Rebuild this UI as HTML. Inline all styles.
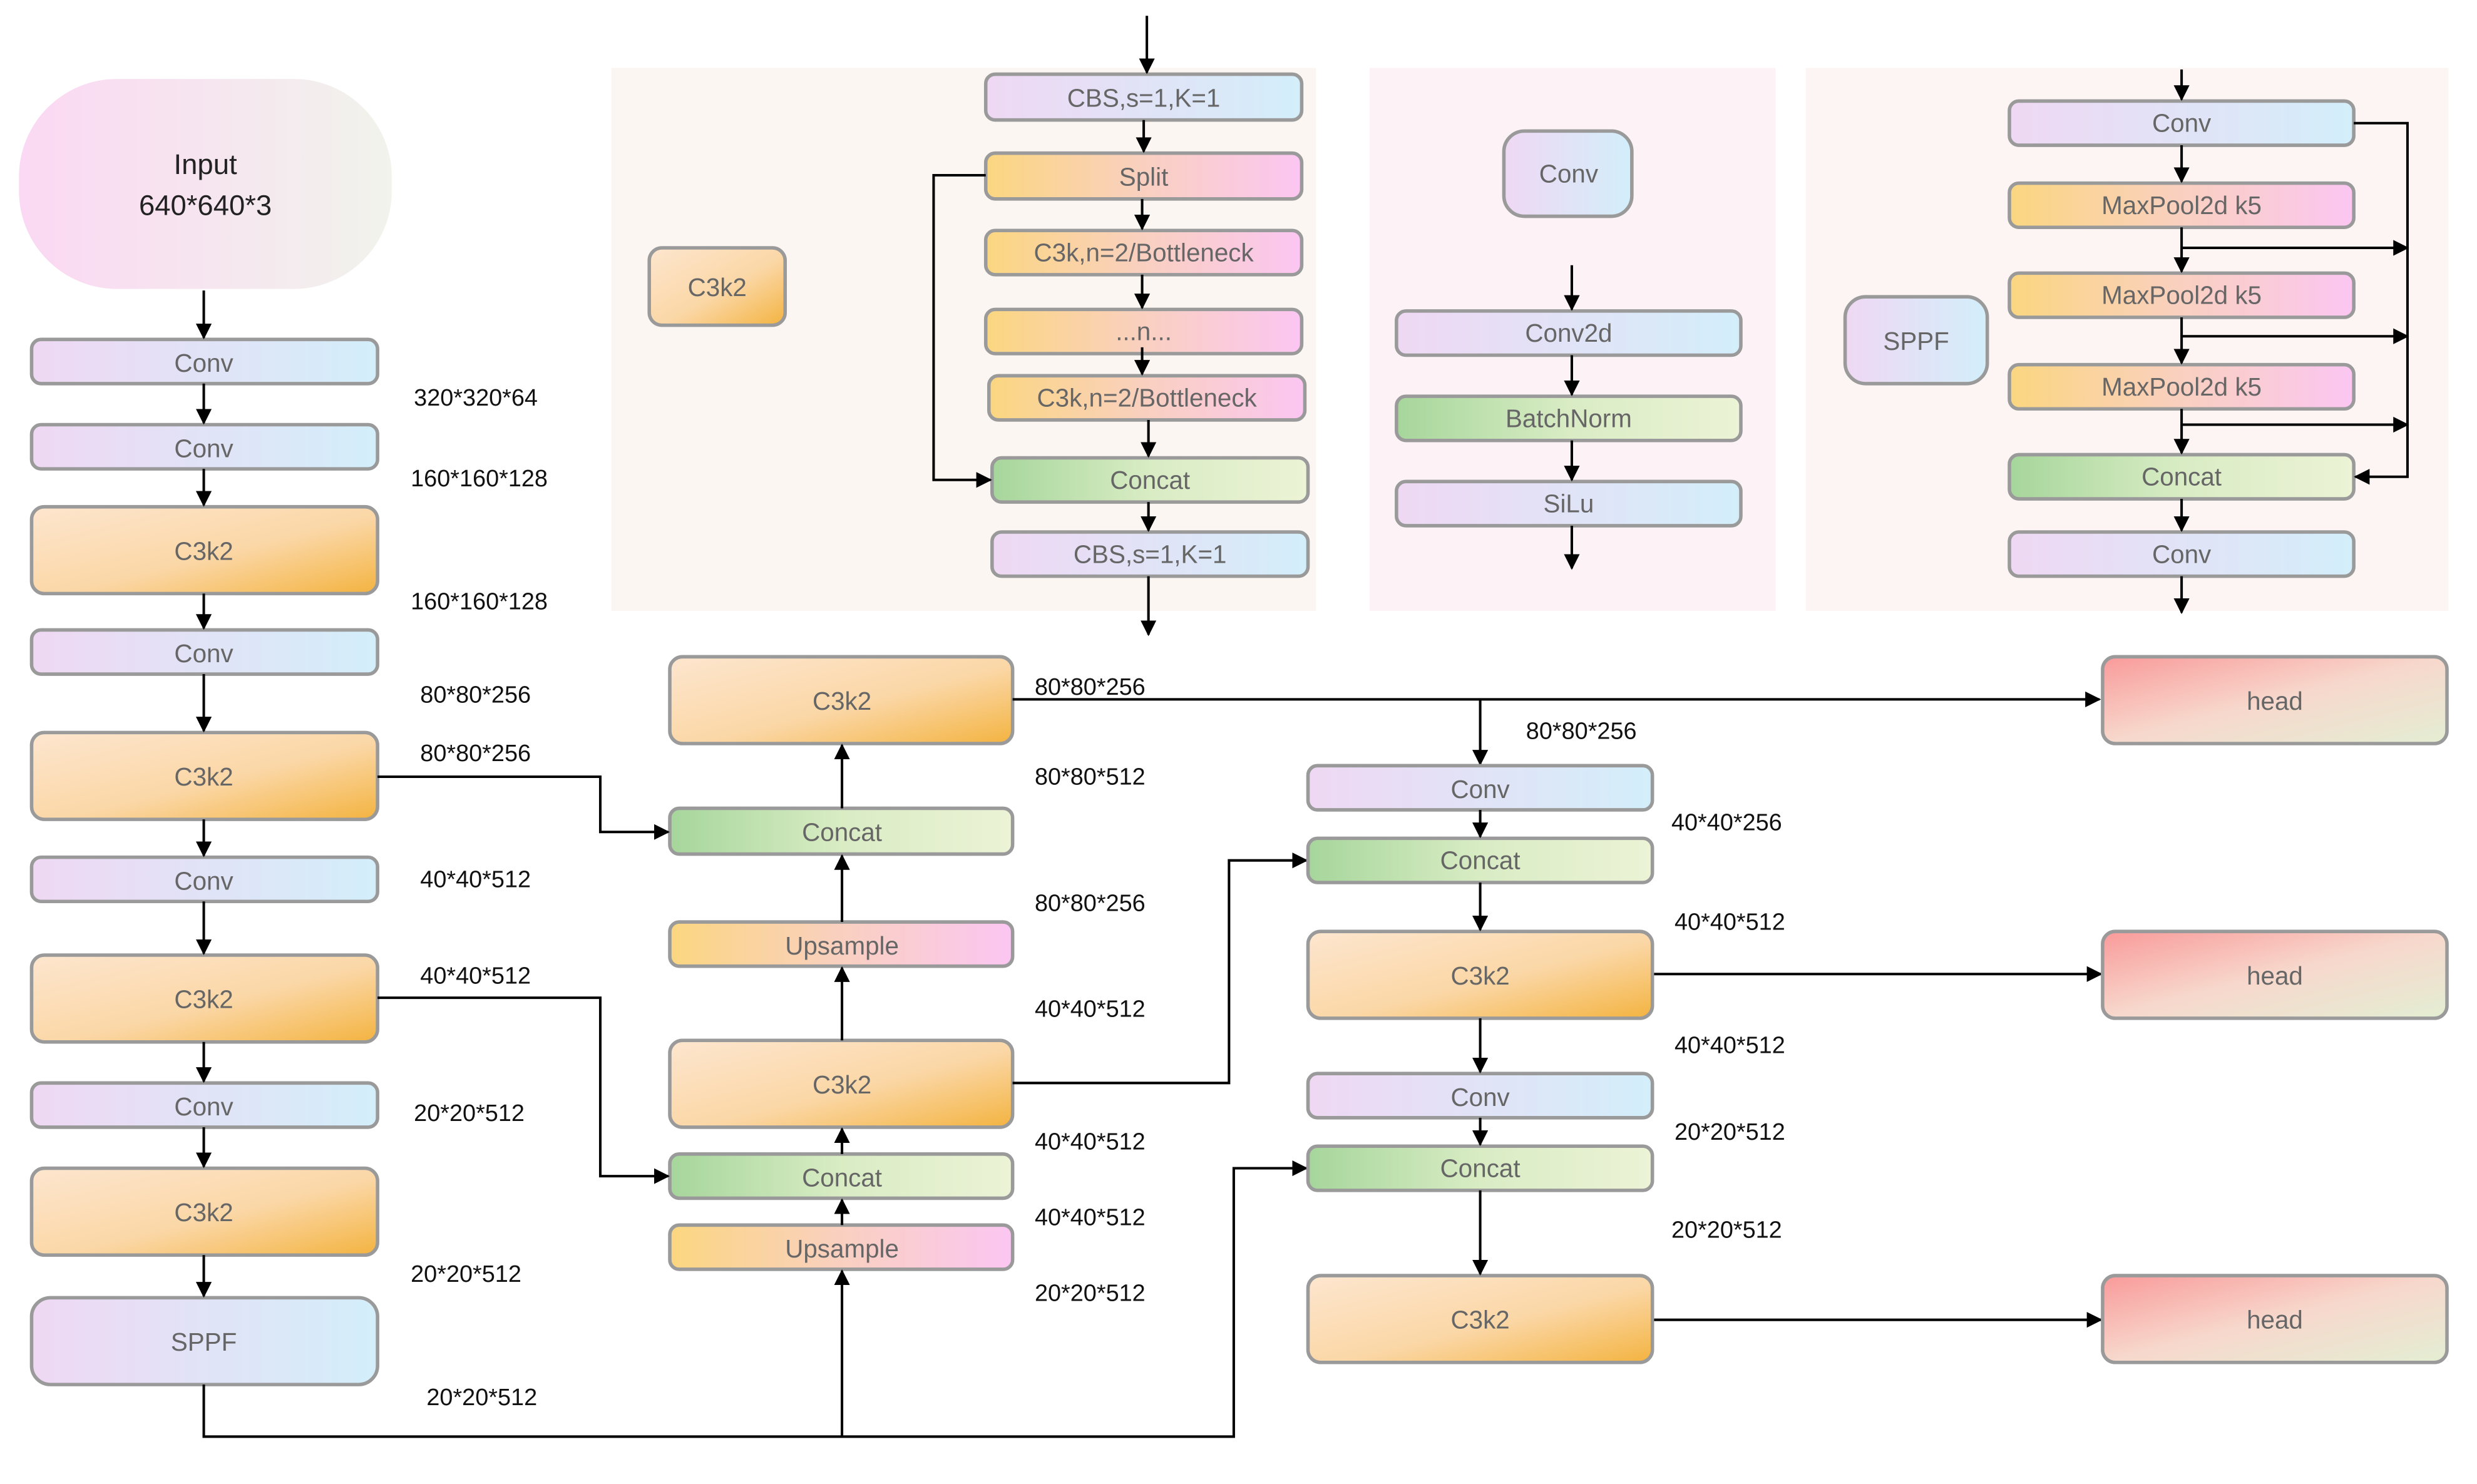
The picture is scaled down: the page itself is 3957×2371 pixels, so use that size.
<!DOCTYPE html>
<html><head><meta charset="utf-8"><style>
html,body{margin:0;padding:0;background:#fff;}
svg{display:block;}
text{font-family:"Liberation Sans",sans-serif;}
.n{fill:#666;font-size:16px;text-anchor:middle;dominant-baseline:central;}
.l{fill:#111;font-size:15px;}
.b{stroke:#9a9a9a;stroke-width:2.2;}
.w{stroke:#000;stroke-width:1.6;fill:none;}
</style></head><body>
<svg width="3957" height="2371" viewBox="0 0 1568 940" preserveAspectRatio="none" xmlns="http://www.w3.org/2000/svg">
<defs>
<linearGradient id="cv" x1="0" y1="0" x2="1" y2="0"><stop offset="0" stop-color="#efd8f3"/><stop offset="1" stop-color="#d3eefa"/></linearGradient>
<linearGradient id="ck" x1="0" y1="0" x2="1" y2="1"><stop offset="0" stop-color="#fde6cf"/><stop offset="0.55" stop-color="#fbd7a6"/><stop offset="1" stop-color="#f3b340"/></linearGradient>
<linearGradient id="cc" x1="0" y1="0" x2="1" y2="0"><stop offset="0" stop-color="#a6d69b"/><stop offset="0.5" stop-color="#d9ecc4"/><stop offset="1" stop-color="#ecf3d6"/></linearGradient>
<linearGradient id="up" x1="0" y1="0" x2="1" y2="0"><stop offset="0" stop-color="#fbd680"/><stop offset="0.5" stop-color="#f9d0c0"/><stop offset="1" stop-color="#fbc6f2"/></linearGradient>
<linearGradient id="hd" x1="0" y1="0" x2="1" y2="1"><stop offset="0" stop-color="#f99a9a"/><stop offset="0.5" stop-color="#f7d8cc"/><stop offset="1" stop-color="#e3eed3"/></linearGradient>
<linearGradient id="in" x1="0" y1="0" x2="1" y2="0"><stop offset="0" stop-color="#fbd8f3"/><stop offset="1" stop-color="#f1f3ec"/></linearGradient>
<marker id="a" markerWidth="10" markerHeight="10" refX="9" refY="5" orient="auto" markerUnits="userSpaceOnUse"><path d="M0,0 L10,5 L0,10 z" fill="#000"/></marker>
</defs>
<rect x="387" y="43" width="446" height="344" fill="#fcf6f2"/>
<rect x="867" y="43" width="257" height="344" fill="#fdf2f5"/>
<rect x="1143" y="43" width="407" height="344" fill="#fdf5f3"/>

<rect x="12" y="50" width="236" height="133" rx="62" fill="url(#in)"/>
<text class="n" x="130" y="104" style="fill:#222;font-size:18px">Input</text>
<text class="n" x="130" y="130" style="fill:#222;font-size:18px">640*640*3</text>

<g class="b">
<rect x="20" y="215" width="219" height="28" rx="6" fill="url(#cv)"/>
<rect x="20" y="269" width="219" height="28" rx="6" fill="url(#cv)"/>
<rect x="20" y="321" width="219" height="55" rx="8" fill="url(#ck)"/>
<rect x="20" y="399" width="219" height="28" rx="6" fill="url(#cv)"/>
<rect x="20" y="464" width="219" height="55" rx="8" fill="url(#ck)"/>
<rect x="20" y="543" width="219" height="28" rx="6" fill="url(#cv)"/>
<rect x="20" y="605" width="219" height="55" rx="8" fill="url(#ck)"/>
<rect x="20" y="686" width="219" height="28" rx="6" fill="url(#cv)"/>
<rect x="20" y="740" width="219" height="55" rx="8" fill="url(#ck)"/>
<rect x="20" y="822" width="219" height="55" rx="12" fill="url(#cv)"/>
</g>
<text class="n" x="129" y="230">Conv</text>
<text class="n" x="129" y="284">Conv</text>
<text class="n" x="129" y="349">C3k2</text>
<text class="n" x="129" y="414">Conv</text>
<text class="n" x="129" y="492">C3k2</text>
<text class="n" x="129" y="558">Conv</text>
<text class="n" x="129" y="633">C3k2</text>
<text class="n" x="129" y="701">Conv</text>
<text class="n" x="129" y="768">C3k2</text>
<text class="n" x="129" y="850">SPPF</text>
<g class="w" marker-end="url(#a)">
<line x1="129" y1="184" x2="129" y2="214"/>
<line x1="129" y1="243" x2="129" y2="268"/>
<line x1="129" y1="297" x2="129" y2="320"/>
<line x1="129" y1="376" x2="129" y2="398"/>
<line x1="129" y1="427" x2="129" y2="463"/>
<line x1="129" y1="519" x2="129" y2="542"/>
<line x1="129" y1="571" x2="129" y2="604"/>
<line x1="129" y1="660" x2="129" y2="685"/>
<line x1="129" y1="714" x2="129" y2="739"/>
<line x1="129" y1="795" x2="129" y2="821"/>
</g>
<g class="l">
<text x="262" y="257">320*320*64</text>
<text x="260" y="308">160*160*128</text>
<text x="260" y="386">160*160*128</text>
<text x="266" y="445">80*80*256</text>
<text x="266" y="482">80*80*256</text>
<text x="266" y="562">40*40*512</text>
<text x="266" y="623">40*40*512</text>
<text x="262" y="710">20*20*512</text>
<text x="260" y="812">20*20*512</text>
<text x="270" y="890">20*20*512</text>
</g>

<g class="b">
<rect x="424" y="416" width="217" height="55" rx="8" fill="url(#ck)"/>
<rect x="424" y="512" width="217" height="29" rx="6" fill="url(#cc)"/>
<rect x="424" y="584" width="217" height="28" rx="6" fill="url(#up)"/>
<rect x="424" y="659" width="217" height="55" rx="8" fill="url(#ck)"/>
<rect x="424" y="731" width="217" height="28" rx="6" fill="url(#cc)"/>
<rect x="424" y="776" width="217" height="28" rx="6" fill="url(#up)"/>
</g>
<text class="n" x="533" y="444">C3k2</text>
<text class="n" x="533" y="527">Concat</text>
<text class="n" x="533" y="599">Upsample</text>
<text class="n" x="533" y="687">C3k2</text>
<text class="n" x="533" y="746">Concat</text>
<text class="n" x="533" y="791">Upsample</text>
<g class="w" marker-end="url(#a)">
<line x1="533" y1="512" x2="533" y2="472"/>
<line x1="533" y1="584" x2="533" y2="542"/>
<line x1="533" y1="659" x2="533" y2="613"/>
<line x1="533" y1="731" x2="533" y2="715"/>
<line x1="533" y1="776" x2="533" y2="760"/>
<line x1="533" y1="910" x2="533" y2="805"/>
<polyline points="239,492 380,492 380,527 423,527"/>
<polyline points="239,632 380,632 380,745 423,745"/>
<polyline points="129,877 129,910 781,910 781,740 827,740"/>
<polyline points="641,443 1329,443"/>
<polyline points="937,443 937,484"/>
<polyline points="641,686 778,686 778,545 827,545"/>
<line x1="1046" y1="617" x2="1330" y2="617"/>
<line x1="1046" y1="836" x2="1330" y2="836"/>
</g>
<g class="l">
<text x="655" y="440">80*80*256</text>
<text x="655" y="497">80*80*512</text>
<text x="655" y="577">80*80*256</text>
<text x="655" y="644">40*40*512</text>
<text x="655" y="728">40*40*512</text>
<text x="655" y="776">40*40*512</text>
<text x="655" y="824">20*20*512</text>
</g>

<g class="b">
<rect x="828" y="485" width="218" height="28" rx="6" fill="url(#cv)"/>
<rect x="828" y="531" width="218" height="28" rx="6" fill="url(#cc)"/>
<rect x="828" y="590" width="218" height="55" rx="8" fill="url(#ck)"/>
<rect x="828" y="680" width="218" height="28" rx="6" fill="url(#cv)"/>
<rect x="828" y="726" width="218" height="28" rx="6" fill="url(#cc)"/>
<rect x="828" y="808" width="218" height="55" rx="8" fill="url(#ck)"/>
<rect x="1331" y="416" width="218" height="55" rx="8" fill="url(#hd)"/>
<rect x="1331" y="590" width="218" height="55" rx="8" fill="url(#hd)"/>
<rect x="1331" y="808" width="218" height="55" rx="8" fill="url(#hd)"/>
</g>
<text class="n" x="937" y="500">Conv</text>
<text class="n" x="937" y="545">Concat</text>
<text class="n" x="937" y="618">C3k2</text>
<text class="n" x="937" y="695">Conv</text>
<text class="n" x="937" y="740">Concat</text>
<text class="n" x="937" y="836">C3k2</text>
<text class="n" x="1440" y="444">head</text>
<text class="n" x="1440" y="618">head</text>
<text class="n" x="1440" y="836">head</text>
<g class="w" marker-end="url(#a)">
<line x1="937" y1="513" x2="937" y2="530"/>
<line x1="937" y1="559" x2="937" y2="589"/>
<line x1="937" y1="645" x2="937" y2="679"/>
<line x1="937" y1="708" x2="937" y2="725"/>
<line x1="937" y1="754" x2="937" y2="807"/>
</g>
<g class="l">
<text x="966" y="468">80*80*256</text>
<text x="1058" y="526">40*40*256</text>
<text x="1060" y="589">40*40*512</text>
<text x="1060" y="667">40*40*512</text>
<text x="1060" y="722">20*20*512</text>
<text x="1058" y="784">20*20*512</text>
</g>

<g class="b">
<rect x="411" y="157" width="86" height="49" rx="8" fill="url(#ck)"/>
<rect x="624" y="47" width="200" height="29" rx="6" fill="url(#cv)"/>
<rect x="624" y="97" width="200" height="29" rx="6" fill="url(#up)"/>
<rect x="624" y="146" width="200" height="28" rx="6" fill="url(#up)"/>
<rect x="624" y="196" width="200" height="28" rx="6" fill="url(#up)"/>
<rect x="626" y="238" width="200" height="28" rx="6" fill="url(#up)"/>
<rect x="628" y="290" width="200" height="28" rx="6" fill="url(#cc)"/>
<rect x="628" y="337" width="200" height="28" rx="6" fill="url(#cv)"/>
</g>
<text class="n" x="454" y="182">C3k2</text>
<text class="n" x="724" y="62">CBS,s=1,K=1</text>
<text class="n" x="724" y="112">Split</text>
<text class="n" x="724" y="160">C3k,n=2/Bottleneck</text>
<text class="n" x="724" y="210">...n...</text>
<text class="n" x="726" y="252">C3k,n=2/Bottleneck</text>
<text class="n" x="728" y="304">Concat</text>
<text class="n" x="728" y="351">CBS,s=1,K=1</text>
<g class="w" marker-end="url(#a)">
<line x1="726" y1="10" x2="726" y2="46"/>
<line x1="724" y1="76" x2="724" y2="96"/>
<line x1="723" y1="126" x2="723" y2="145"/>
<line x1="723" y1="174" x2="723" y2="195"/>
<line x1="723" y1="220" x2="723" y2="237"/>
<line x1="727" y1="266" x2="727" y2="289"/>
<line x1="727" y1="318" x2="727" y2="336"/>
<line x1="727" y1="365" x2="727" y2="402"/>
<polyline points="624,111 591,111 591,304 627,304"/>
</g>

<g class="b">
<rect x="952" y="83" width="81" height="54" rx="13" fill="url(#cv)"/>
<rect x="884" y="197" width="218" height="28" rx="6" fill="url(#cv)"/>
<rect x="884" y="251" width="218" height="28" rx="6" fill="url(#cc)"/>
<rect x="884" y="305" width="218" height="28" rx="6" fill="url(#cv)"/>
</g>
<text class="n" x="993" y="110">Conv</text>
<text class="n" x="993" y="211">Conv2d</text>
<text class="n" x="993" y="265">BatchNorm</text>
<text class="n" x="993" y="319">SiLu</text>
<g class="w" marker-end="url(#a)">
<line x1="995" y1="168" x2="995" y2="196"/>
<line x1="995" y1="225" x2="995" y2="250"/>
<line x1="995" y1="279" x2="995" y2="304"/>
<line x1="995" y1="333" x2="995" y2="360"/>
</g>

<g class="b">
<rect x="1168" y="188" width="90" height="55" rx="13" fill="url(#cv)"/>
<rect x="1272" y="64" width="218" height="28" rx="6" fill="url(#cv)"/>
<rect x="1272" y="116" width="218" height="28" rx="6" fill="url(#up)"/>
<rect x="1272" y="173" width="218" height="28" rx="6" fill="url(#up)"/>
<rect x="1272" y="231" width="218" height="28" rx="6" fill="url(#up)"/>
<rect x="1272" y="288" width="218" height="28" rx="6" fill="url(#cc)"/>
<rect x="1272" y="337" width="218" height="28" rx="6" fill="url(#cv)"/>
</g>
<text class="n" x="1213" y="216">SPPF</text>
<text class="n" x="1381" y="78">Conv</text>
<text class="n" x="1381" y="130">MaxPool2d k5</text>
<text class="n" x="1381" y="187">MaxPool2d k5</text>
<text class="n" x="1381" y="245">MaxPool2d k5</text>
<text class="n" x="1381" y="302">Concat</text>
<text class="n" x="1381" y="351">Conv</text>
<g class="w" marker-end="url(#a)">
<line x1="1381" y1="44" x2="1381" y2="63"/>
<line x1="1381" y1="92" x2="1381" y2="115"/>
<line x1="1381" y1="144" x2="1381" y2="172"/>
<line x1="1381" y1="201" x2="1381" y2="230"/>
<line x1="1381" y1="259" x2="1381" y2="287"/>
<line x1="1381" y1="316" x2="1381" y2="336"/>
<line x1="1381" y1="365" x2="1381" y2="388"/>
<line x1="1381" y1="157" x2="1524" y2="157"/>
<line x1="1381" y1="213" x2="1524" y2="213"/>
<line x1="1381" y1="269" x2="1524" y2="269"/>
<polyline points="1490,78 1524,78 1524,302 1491,302"/>
</g>
</svg>
</body></html>
